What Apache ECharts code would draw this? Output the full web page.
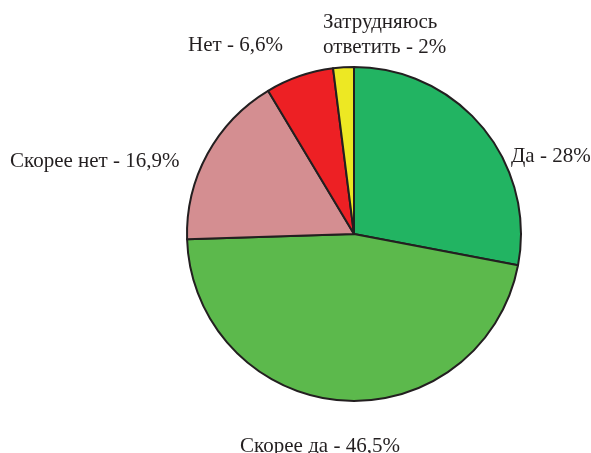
<!DOCTYPE html>
<html>
<head>
<meta charset="utf-8">
<script src="https://cdn.jsdelivr.net/npm/echarts@6/dist/echarts.min.js"></script>
<style>
  html, body { margin: 0; padding: 0; background: #fff; }
  #chart { width: 591px; height: 453px; }
</style>
</head>
<body>
<div id="chart"></div>
<script>
var categories = ['Да', 'Скорее да', 'Скорее нет', 'Нет', 'Затрудняюсь\nответить'];
var values = [28, 46.5, 16.9, 6.6, 2];
var valueLabels = ['28%', '46,5%', '16,9%', '6,6%', '2%'];
var colors = ['#22b462', '#5cb94c', '#d48e91', '#ed2024', '#ede823'];

// where each label sits (x, y, horizontal anchor)
var labelSpots = [
  [511, 156, 'left'],
  [320, 446, 'center'],
  [10, 161, 'left'],
  [188, 45, 'left'],
  [323, 35, 'left']
];

var chart = echarts.init(document.getElementById('chart'));

var data = categories.map(function (name, i) {
  return {
    name: name,
    value: values[i],
    itemStyle: { color: colors[i] }
  };
});

var option = {
  animation: false,
  series: [{
    type: 'pie',
    center: [354, 234],
    radius: 167,
    startAngle: 90,
    clockwise: true,
    data: data,
    itemStyle: {
      borderColor: '#231f20',
      borderWidth: 2
    },
    label: {
      show: true,
      position: 'outside',
      fontFamily: 'Liberation Serif',
      fontSize: 21,
      color: '#231f20',
      lineHeight: 25,
      overflow: 'none',
      formatter: function (p) {
        return p.name + ' - ' + valueLabels[p.dataIndex];
      }
    },
    labelLine: { show: false },
    labelLayout: function (p) {
      var s = labelSpots[p.dataIndex];
      return { x: s[0], y: s[1], align: s[2], verticalAlign: 'middle' };
    }
  }]
};

chart.setOption(option);
</script>
</body>
</html>
